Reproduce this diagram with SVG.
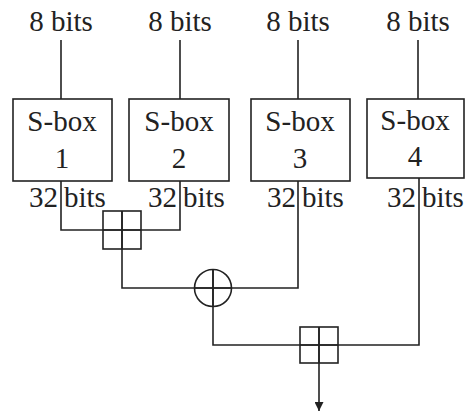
<svg xmlns="http://www.w3.org/2000/svg" width="470" height="413" viewBox="0 0 470 413">
<style>
text{font-family:'Liberation Serif','Times New Roman',serif;font-size:29px;fill:#222}
.m{text-anchor:middle}
.e{text-anchor:end}
.b{fill:#fff;stroke:#222;stroke-width:1.6}
.c{fill:none;stroke:#222;stroke-width:1.6}
</style>
<defs>
<marker id="ah" markerWidth="10" markerHeight="9" refX="9" refY="4.5" orient="auto" markerUnits="userSpaceOnUse">
<path d="M0,0 L9,4.5 L0,9 Z" fill="#222"/>
</marker>
</defs>
<rect width="470" height="413" fill="#fff"/>
<g id="connectors">
<path class="c" d="M61,40 V99 M180,40 V99 M298,40 V99 M418,40 V99"/>
<path class="c" d="M61,181 V230 H180 V181"/>
<path class="c" d="M122,211 V288 H298 V181"/>
<path class="c" d="M213,270 V345 H419 V178"/>
<path class="c" d="M319,327 V411" marker-end="url(#ah)"/>
</g>
<g id="sbox1"><rect class="b" x="13" y="99" width="99" height="82"/><text class="m" x="62" y="131">S-box</text><text class="m" x="62" y="168">1</text></g>
<g id="sbox2"><rect class="b" x="129" y="99" width="100" height="82"/><text class="m" x="179" y="131">S-box</text><text class="m" x="179" y="168">2</text></g>
<g id="sbox3"><rect class="b" x="251" y="99" width="99" height="82"/><text class="m" x="300" y="131">S-box</text><text class="m" x="300" y="168">3</text></g>
<g id="sbox4"><rect class="b" x="367" y="99" width="97" height="79"/><text class="m" x="415" y="130">S-box</text><text class="m" x="415" y="166">4</text></g>
<g id="inputs">
<text class="m" x="61" y="31">8 bits</text>
<text class="m" x="180" y="31">8 bits</text>
<text class="m" x="298" y="31">8 bits</text>
<text class="m" x="418" y="31">8 bits</text>
</g>
<g id="outputs">
<text class="e" x="58" y="207">32</text><text x="64" y="207">bits</text>
<text class="e" x="177" y="207">32</text><text x="183" y="207">bits</text>
<text class="e" x="296" y="207">32</text><text x="302" y="207">bits</text>
<text class="e" x="416" y="207">32</text><text x="422" y="207">bits</text>
</g>
<g id="add1"><rect class="c" x="103" y="211" width="38" height="38"/><path class="c" d="M103,230 H141 M122,211 V249"/></g>
<g id="xor"><circle class="c" cx="213" cy="288" r="18.5"/><path class="c" d="M194.5,288 H231.5 M213,269.5 V306.5"/></g>
<g id="add2"><rect class="c" x="300" y="327" width="38" height="36"/><path class="c" d="M300,345 H338 M319,327 V363"/></g>
</svg>
